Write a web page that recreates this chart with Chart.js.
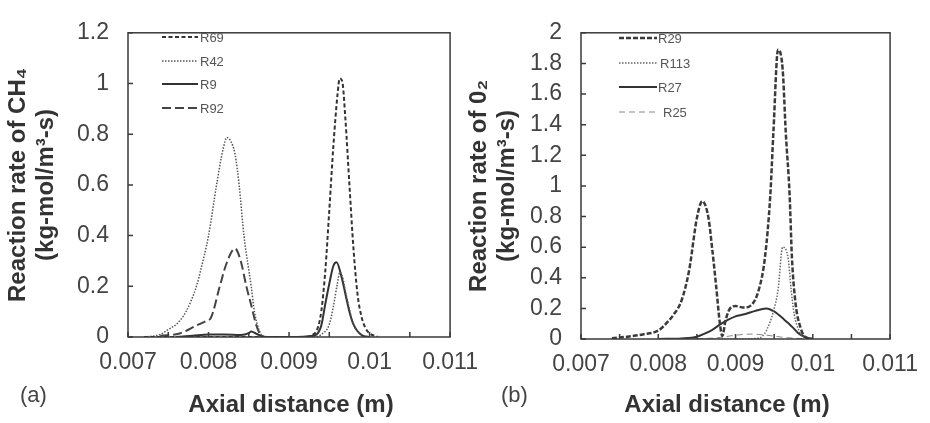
<!DOCTYPE html>
<html>
<head>
<meta charset="utf-8">
<script src="https://cdn.jsdelivr.net/npm/chart.js@4.4.1/dist/chart.umd.min.js"></script>
<style>
  body { margin: 0; background: #fff; width: 930px; height: 423px; position: relative; overflow: hidden; }
  .panel { position: absolute; top: 0; }
</style>
</head>
<body>
<div class="panel" style="left:0"><canvas id="chartA" width="490" height="423"></canvas></div>
<div class="panel" style="left:465px"><canvas id="chartB" width="465" height="423"></canvas></div>
<script>
// Axis ranges / ticks
const xMin = 0.007, xMax = 0.011, xStep = 0.0005;
const yMaxA = 1.2, yMaxB = 2, yStep = 0.2;

// (a) CH4 reactions
const r69X = [0.0072, 0.0080, 0.0088, 0.0092, 0.0093, 0.00935, 0.0094, 0.00945, 0.0095, 0.00955, 0.0096, 0.00963, 0.00966, 0.0097, 0.00975, 0.0098, 0.00985, 0.0099, 0.00995, 0.0100, 0.0101];
const r69Y = [0, 0, 0, 0, 0.01, 0.03, 0.1, 0.26, 0.5, 0.75, 0.95, 1.02, 1.01, 0.86, 0.6, 0.35, 0.17, 0.08, 0.035, 0.015, 0];

const r42X = [0.0072, 0.0074, 0.0075, 0.0076, 0.00772, 0.00785, 0.0079, 0.0080, 0.0081, 0.00818, 0.00823, 0.00828, 0.00833, 0.00838, 0.00844, 0.00853, 0.00857, 0.00863, 0.00867, 0.0088, 0.0090, 0.0093, 0.0094, 0.0095, 0.00955, 0.0096, 0.00963, 0.00967, 0.0097, 0.00975, 0.0098, 0.0099, 0.0100];
const r42Y = [0, 0.01, 0.03, 0.05, 0.1, 0.2, 0.26, 0.4, 0.6, 0.74, 0.787, 0.77, 0.72, 0.6, 0.4, 0.2, 0.1, 0.026, 0.005, 0, 0, 0, 0.01, 0.05, 0.12, 0.21, 0.255, 0.23, 0.18, 0.11, 0.05, 0.01, 0];

const r9X = [0.0076, 0.0078, 0.0080, 0.0082, 0.0084, 0.0085, 0.00853, 0.0086, 0.0087, 0.0090, 0.0093, 0.0094, 0.00945, 0.0095, 0.00955, 0.00959, 0.00965, 0.0097, 0.00975, 0.0098, 0.0099, 0.0100];
const r9Y = [0, 0.005, 0.01, 0.01, 0.008, 0.015, 0.022, 0.012, 0, 0, 0.005, 0.045, 0.13, 0.21, 0.28, 0.295, 0.24, 0.17, 0.1, 0.05, 0.008, 0];

const r92X = [0.0074, 0.00764, 0.00785, 0.00797, 0.00803, 0.00814, 0.00822, 0.00833, 0.0084, 0.00847, 0.00853, 0.00859, 0.00865, 0.0087];
const r92Y = [0.005, 0.014, 0.045, 0.063, 0.076, 0.2, 0.287, 0.349, 0.3, 0.2, 0.126, 0.05, 0.007, 0];

// (b) O2 reactions
const r29X = [0.0074, 0.0076, 0.0078, 0.0080, 0.0081, 0.0082, 0.0083, 0.0084, 0.0085, 0.00857, 0.00865, 0.0087, 0.00875, 0.0088, 0.00883, 0.00887, 0.00893, 0.0090, 0.0091, 0.0092, 0.0093, 0.00938, 0.00945, 0.00949, 0.00955, 0.00961, 0.00965, 0.0097, 0.00973, 0.00978, 0.00984, 0.0099, 0.0100];
const r29Y = [0.005, 0.015, 0.03, 0.055, 0.1, 0.16, 0.25, 0.45, 0.79, 0.9, 0.79, 0.58, 0.34, 0.09, 0.02, 0.12, 0.2, 0.215, 0.205, 0.22, 0.32, 0.53, 0.94, 1.35, 1.89, 1.76, 1.35, 0.94, 0.53, 0.22, 0.076, 0.014, 0];

const r113X = [0.0080, 0.0090, 0.0093, 0.00936, 0.0094, 0.00949, 0.00955, 0.00961, 0.00968, 0.00972, 0.00976, 0.00982, 0.00988, 0.0100];
const r113Y = [0, 0, 0.005, 0.025, 0.056, 0.18, 0.32, 0.6, 0.53, 0.32, 0.16, 0.056, 0.014, 0];

const r27X = [0.0080, 0.0083, 0.0085, 0.0086, 0.0087, 0.0088, 0.0089, 0.0090, 0.0091, 0.0092, 0.0093, 0.0094, 0.0095, 0.0096, 0.00965, 0.0097, 0.00974, 0.00982, 0.0099, 0.0100];
const r27Y = [0, 0.004, 0.015, 0.035, 0.06, 0.095, 0.125, 0.148, 0.16, 0.175, 0.19, 0.2, 0.18, 0.14, 0.117, 0.095, 0.076, 0.035, 0.014, 0];

const r25X = [0.0085, 0.0088, 0.0090, 0.0092, 0.0094, 0.0096, 0.0098, 0.0100];
const r25Y = [0, 0.01, 0.025, 0.032, 0.025, 0.012, 0.004, 0];

const pts = (xs, ys) => xs.map((x, i) => ({ x, y: ys[i] }));

function series(label, xs, ys, color, width, dash) {
  return {
    label,
    data: pts(xs, ys),
    borderColor: color,
    borderWidth: width,
    borderDash: dash,
    pointRadius: 0,
    fill: false,
    cubicInterpolationMode: 'monotone'
  };
}

// frame, inward tick marks, legend, x title and panel letter
const framePlugin = {
  id: 'frame',
  afterDatasetsDraw(chart, args, opts) {
    const { ctx, chartArea: a, scales } = chart;
    ctx.save();
    ctx.setLineDash([]);
    ctx.strokeStyle = '#3a3a3a';
    ctx.lineWidth = 1.5;
    ctx.strokeRect(a.left, a.top, a.right - a.left, a.bottom - a.top);
    ctx.beginPath();
    scales.x.ticks.forEach(t => {
      const px = scales.x.getPixelForValue(t.value);
      ctx.moveTo(px, a.bottom);
      ctx.lineTo(px, a.bottom - 5);
    });
    scales.y.ticks.forEach(t => {
      const py = scales.y.getPixelForValue(t.value);
      ctx.moveTo(a.left, py);
      ctx.lineTo(a.left + 5, py);
    });
    ctx.stroke();

    // legend
    const lg = opts.legend;
    ctx.font = '13px "Liberation Sans", Arial, sans-serif';
    ctx.textBaseline = 'middle';
    chart.data.datasets.forEach((ds, i) => {
      const y = lg.rows[i];
      ctx.strokeStyle = ds.borderColor;
      ctx.lineWidth = ds.borderWidth;
      ctx.setLineDash(ds.borderDash || []);
      ctx.beginPath();
      ctx.moveTo(lg.x0, y);
      ctx.lineTo(lg.x1, y);
      ctx.stroke();
      ctx.fillStyle = '#555';
      ctx.fillText(ds.label, lg.textX[i], y + 1);
    });
    ctx.setLineDash([]);

    ctx.fillStyle = '#333';
    ctx.textAlign = 'center';
    ctx.font = 'bold 24px "Liberation Sans", Arial, sans-serif';
    ctx.fillText(opts.xTitle, opts.xTitleX, 405);
    ctx.textAlign = 'left';
    ctx.fillStyle = '#444';
    ctx.font = '22px "Liberation Sans", Arial, sans-serif';
    ctx.fillText(opts.letter, opts.letterX, 396);
    ctx.restore();
  }
};

function xTickLabel(v) {
  const k = v * 1000;
  return Math.abs(k - Math.round(k)) < 1e-6 ? String(+v.toFixed(3)) : '';
}

function makeOptions(yMax, yTitle, yWidth, xHeight, padRight, titlePad, frameOpts) {
  return {
    responsive: false,
    animation: false,
    devicePixelRatio: 1,
    layout: { padding: { top: 15, right: padRight, left: 0, bottom: 0 } },
    plugins: {
      legend: { display: false },
      tooltip: { enabled: false },
      frame: frameOpts
    },
    scales: {
      x: {
        type: 'linear',
        min: xMin,
        max: xMax,
        grid: { display: false, drawTicks: false },
        border: { display: false },
        afterFit: s => { s.height = xHeight; },
        ticks: {
          stepSize: xStep,
          autoSkip: false,
          maxRotation: 0,
          minRotation: 0,
          padding: 12,
          color: '#444',
          font: { family: '"Liberation Sans", Arial, sans-serif', size: 23 },
          callback: xTickLabel
        }
      },
      y: {
        min: 0,
        max: yMax,
        grid: { display: false, drawTicks: false },
        border: { display: false },
        afterFit: s => { s.width = yWidth; },
        ticks: {
          stepSize: yStep,
          padding: 19,
          color: '#444',
          font: { family: '"Liberation Sans", Arial, sans-serif', size: 23 },
          callback: v => String(+v.toFixed(1))
        },
        title: {
          display: true,
          text: yTitle,
          color: '#333',
          padding: { top: titlePad, bottom: 0 },
          font: { family: '"Liberation Sans", Arial, sans-serif', size: 24, weight: 'bold', lineHeight: 1.18 }
        }
      }
    }
  };
}

new Chart(document.getElementById('chartA'), {
  type: 'line',
  data: {
    datasets: [
      series('R69', r69X, r69Y, '#333', 2, [4, 2.5]),
      series('R42', r42X, r42Y, '#555', 1.5, [1.5, 1.5]),
      series('R9', r9X, r9Y, '#333', 2, []),
      series('R92', r92X, r92Y, '#444', 2, [9, 4])
    ]
  },
  options: makeOptions(yMaxA, ['Reaction rate of CH\u2084', '(kg-mol/m\u00b3-s)'], 128, 86, 38, 4, {
    legend: { x0: 162, x1: 198, textX: [200, 200, 200, 200], rows: [37, 61, 84, 108] },
    xTitle: 'Axial distance (m)', xTitleX: 291,
    letter: '(a)', letterX: 20
  }),
  plugins: [framePlugin]
});

new Chart(document.getElementById('chartB'), {
  type: 'line',
  data: {
    datasets: [
      series('R29', r29X, r29Y, '#3a3a3a', 2.5, [5, 2]),
      series('R113', r113X, r113Y, '#666', 1.5, [1.5, 1.5]),
      series('R27', r27X, r27Y, '#333', 2, []),
      series('R25', r25X, r25Y, '#888', 1, [6, 4])
    ]
  },
  options: makeOptions(yMaxB, ['Reaction rate of 0\u2082', '(kg-mol/m\u00b3-s)'], 116, 84, 29, 0, {
    legend: { x0: 154, x1: 192, textX: [193, 195, 193, 198], rows: [38, 63, 87, 112] },
    xTitle: 'Axial distance (m)', xTitleX: 262,
    letter: '(b)', letterX: 36
  }),
  plugins: [framePlugin]
});
</script>
</body>
</html>
